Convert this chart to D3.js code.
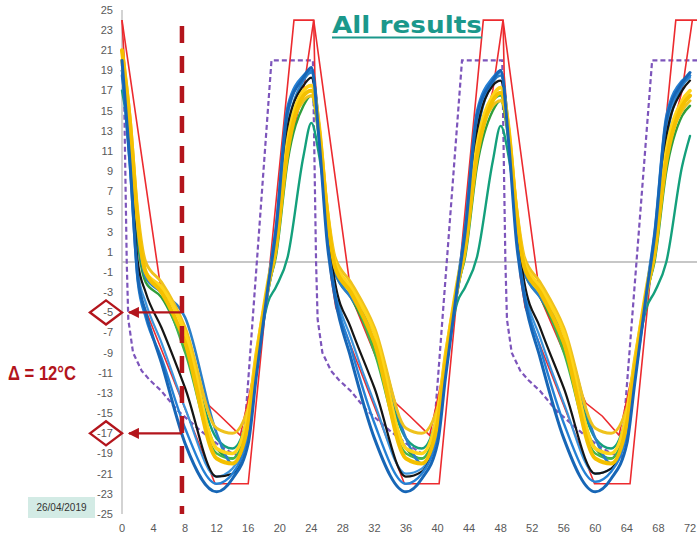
<!DOCTYPE html>
<html>
<head>
<meta charset="utf-8">
<script src="https://cdn.jsdelivr.net/npm/d3@7"></script>
<style>
  html, body { margin: 0; padding: 0; background: #fff; }
  svg { display: block; }
</style>
</head>
<body>
<svg id="chart" width="697" height="537"></svg>
<script>
// ---------- DATA ----------
const titleText = "All results";
const deltaText = "Δ = 12°C";
const dateText = "26/04/2019";
const yTicks = [25,23,21,19,17,15,13,11,9,7,5,3,1,-1,-3,-5,-7,-9,-11,-13,-15,-17,-19,-21,-23,-25];
const xTicks = [0,4,8,12,16,20,24,28,32,36,40,44,48,52,56,60,64,68,72];
const markerHour = 7.6;
const markedValues = [-5, -17];

// shared time grid for the measured curves (hours)
const hours = [0,1,2,3,5,8,12,14,16,17,18.5,19.5,21,23,
               24,25,26,27,29,32,36,38,40,41,42.5,43.5,45,47,
               48,49,50,51,53,56,60,62,64,65,66.5,67.5,69,71,
               72];

const blue1 = [20,10,-1.5,-5,-10,-18,-22.8,-21.5,-18,-11.5,-2.5,3,15,18.3,
               19.3,12,2,-3.5,-9.5,-17.5,-22.8,-21.5,-18,-11.5,-2.5,3,14.5,18,
               19,12,2,-3.5,-9.5,-17.5,-22.8,-21.5,-18,-12,-3,2.5,14,17.8,
               18.8];
const blue2 = [19,9.5,-2,-5.5,-9.5,-16.5,-22,-21,-17,-10.5,-2,3.5,15.5,18.5,
               19,12.5,2.5,-3,-8.5,-16,-22,-21,-17,-10.5,-2,3.5,15,18.3,
               19,12.5,2.5,-3,-8.5,-16,-21.8,-20.8,-17,-11,-2.5,3,14.5,18,
               18.5];
const blue4 = [19,10.5,-1,-4,-8,-14.5,-21.3,-20.5,-16.5,-10,-2.5,3,14.5,18.5,
               19,13,3,-2.5,-7.5,-14,-21,-20.5,-16.5,-10,-2.5,3,14,18,
               18.8,13,3,-2.5,-7.5,-14,-21,-20.5,-16.5,-10.5,-3,2.5,13.5,17.5,
               18.3];
const black = [19,11,0,-3,-6.5,-12.5,-21.3,-21,-16.5,-10,-2.5,2,13.5,17.5,
               18.3,13,3.5,-2,-6.5,-12.5,-21.3,-20.8,-16.5,-10,-2.5,2,13,17.5,
               18,13,3.5,-2,-6.5,-12.5,-21,-20.5,-16.5,-10.5,-3,1.5,12.5,17,
               18];
const blue3 = [18.5,12,3,-1.5,-3,-5.5,-17,-20,-17,-11,-3,1.5,13,18,
               18.8,13.5,4,-1,-3.5,-7,-17.5,-20,-17,-11,-3,1.5,12.5,17.8,
               18.5,13.5,4,-1,-3.5,-7,-17.5,-20,-17,-11.5,-3.5,1,12,17.5,
               18.5];
const green1 = [19,12,2,-2,-3.5,-8.5,-18.5,-19.5,-15.5,-9.5,-2.5,0.5,10,15.5,
                16.5,12,4,-1,-3.5,-8.5,-18.5,-19.5,-15.5,-9.5,-2.5,0.5,9.5,15,
                16,12,4,-1,-3.5,-8.5,-18.5,-19.5,-15.5,-10,-3,0,9,14.5,
                15.5];
const green2 = [17,12,4,-1.5,-3,-8,-17.5,-18.5,-15,-10,-4,-2.5,0.5,10.5,
                13.8,10.5,5,0,-3,-8,-17.5,-18.5,-15,-10,-4,-2.5,0.5,10,
                13.5,10.5,5,0,-3,-8,-17.5,-18.5,-15,-10.5,-4.5,-3,0,9.5,
                12.5];
const green3 = [19.5,12.5,3,-1.5,-3,-9,-19,-19.5,-15.5,-10,-3,1,11.5,16.5,
                17,12.5,4.5,-1,-3,-9,-19,-19.5,-15.5,-10,-3,1,11,16,
                16.5,12.5,4.5,-1,-3,-9,-19,-19.5,-15.5,-10.5,-3.5,0.5,10.5,15.5,
                16.5];
const yellow1 = [21,14,4,-1,-3,-8,-19.5,-20,-16,-10,-2.5,1.5,11,16.5,
                 17,13,5,-0.5,-3,-8,-19.5,-20,-16,-10,-2.5,1.5,10.5,16,
                 16.8,13,5,-0.5,-3,-8,-19.5,-20,-16,-10.5,-3,1,10,15.5,
                 16.5];
const yellow2 = [20,13.5,4,-1,-2.5,-7,-18.5,-19,-15,-9.5,-2,2,12,17,
                 17.5,13.5,5,0,-2.5,-7,-18.5,-19,-15,-9.5,-2,2,11.5,16.5,
                 17.3,13.5,5,0,-2.5,-7,-18.5,-19,-15,-10,-2.5,1.5,11,16,
                 17];
const yellow3 = [21,14.5,5,0,-2,-6.5,-16.5,-17,-14.5,-9,-2.5,1,11.5,16,
                 16.5,13,5.5,0.5,-2,-6.5,-16.5,-17,-14.5,-9,-2.5,1,11,15.5,
                 16,13,5.5,0.5,-2,-6.5,-16.5,-17,-14.5,-9.5,-3,0.5,10.5,15,
                 16];

// thin red curve (hours / values)
const redAHours = [0,4.8,8.8,10.7,12.5,15,17,18.5,19.5,21,23,24.3,
                   29.1,32.7,34.7,36.5,39,41,42.5,43.5,45,47,48.3,
                   53,56.8,58.8,60.9,63,65,66.5,67.5,69,71,72.3];
const redAValues = [24,-2,-10.4,-14,-15.3,-17.2,-10,-3,1.5,11,17,24,
                    -3.5,-10.4,-14,-15.3,-17.2,-10,-3,1.5,11,17,24,
                    -3.5,-10.4,-14,-15.3,-17.2,-10,-3,1.5,11,17,24];
// red trapezoid set point
const redBHours = [0,0.25,2,2.6,11.8,16,21.8,24.3,24.45,26.5,27.1,35.8,40.2,45.8,48.3,48.45,50.5,51.1,59.9,64.4,70.2,73.5];
const redBValues = [24,20.5,-1,-4,-22,-22,24,24,18.5,-1.5,-4.5,-22,-22,24,24,18.5,-1.5,-4.5,-22,-22,24,24];
// purple dashed set point
const purpleHours = [0,0.2,0.6,0.8,1.4,2.5,3.5,5,7,9.9,12,14,15.3,18.95,
                     24.2,24.6,24.8,25.4,26.5,27.5,29,31,33.9,36,38,39.3,43.1,
                     48.2,48.6,48.8,49.4,50.5,51.5,53,55,57.9,60,62,63.3,67.2,73.5];
const purpleValues = [20,20,0,-5.7,-9,-10.8,-11.7,-12.8,-14.7,-16.7,-18,-19,-19.3,20,
                      20,0,-5.7,-9,-10.8,-11.7,-12.8,-14.7,-16.7,-18,-19,-19.3,20,
                      20,0,-5.7,-9,-10.8,-11.7,-12.8,-14.7,-16.7,-18,-19,-19.3,20,20];

const curves = [
  {name:"green2", values: green2, color:"#14a07c", width:2.4},
  {name:"green1", values: green1, color:"#2f9e3c", width:2.4},
  {name:"green3", values: green3, color:"#41b54e", width:2.2},
  {name:"blue4",  values: blue4,  color:"#3d94dc", width:2.2},
  {name:"blue3",  values: blue3,  color:"#2a7fc8", width:2.6},
  {name:"black",  values: black,  color:"#151515", width:2.2},
  {name:"blue2",  values: blue2,  color:"#2580d4", width:2.4},
  {name:"yellow3",values: yellow3,color:"#efc21d", width:3},
  {name:"yellow2",values: yellow2,color:"#ffd41a", width:3.6},
  {name:"yellow1",values: yellow1,color:"#f4c000", width:4},
  {name:"blue1",  values: blue1,  color:"#1766b6", width:3}
];

// ---------- DRAW ----------
const svg = d3.select("#chart");
const x = d3.scaleLinear().domain([0, 72]).range([122, 690]);
const y = d3.scaleLinear().domain([-25, 25]).range([514, 10]);
const darkRed = "#b3151c";

// zero line
svg.append("line")
  .attr("x1", x(0)).attr("x2", 697)
  .attr("y1", y(0)).attr("y2", y(0))
  .attr("stroke", "#b4b4b4").attr("stroke-width", 1.5);

// y axis line
svg.append("line")
  .attr("x1", x(0)).attr("x2", x(0))
  .attr("y1", y(25)).attr("y2", y(-25))
  .attr("stroke", "#c4c4c4").attr("stroke-width", 1.5);

const lineXY = d3.line().x(d => x(d[0])).y(d => y(d[1])).curve(d3.curveLinear);
const plot = svg.append("g");

// purple dashed
plot.append("path")
  .datum(purpleHours.map((h, i) => [h, purpleValues[i]]))
  .attr("d", lineXY)
  .attr("fill", "none").attr("stroke", "#7d55bb").attr("stroke-width", 2.2)
  .attr("stroke-dasharray", "5,3");

// red trapezoid
plot.append("path")
  .datum(redBHours.map((h, i) => [h, redBValues[i]]))
  .attr("d", lineXY)
  .attr("fill", "none").attr("stroke", "#ec2b2f").attr("stroke-width", 1.6);

// thin red curve
plot.append("path")
  .datum(redAHours.map((h, i) => [h, redAValues[i]]))
  .attr("d", lineXY)
  .attr("fill", "none").attr("stroke", "#ec2b2f").attr("stroke-width", 1.6);

// measured curves
const smooth = d3.line().x(d => x(d[0])).y(d => y(d[1])).curve(d3.curveMonotoneX);
curves.forEach(c => {
  plot.append("path")
    .datum(hours.map((h, i) => [h, c.values[i]]))
    .attr("d", smooth)
    .attr("fill", "none")
    .attr("stroke", c.color)
    .attr("stroke-width", c.width)
    .attr("stroke-linejoin", "round")
    .attr("stroke-linecap", "round");
});

// vertical dashed marker line
svg.append("line")
  .attr("x1", x(markerHour)).attr("x2", x(markerHour))
  .attr("y1", 26).attr("y2", y(-25))
  .attr("stroke", darkRed).attr("stroke-width", 4.5)
  .attr("stroke-dasharray", "17,13");

// arrow marker
const defs = svg.append("defs");
defs.append("marker")
  .attr("id", "arrowHead")
  .attr("viewBox", "0 0 10 10")
  .attr("refX", 9).attr("refY", 5)
  .attr("markerWidth", 4.6).attr("markerHeight", 4.6)
  .attr("markerUnits", "strokeWidth")
  .attr("orient", "auto")
  .append("path")
  .attr("d", "M0,0 L10,5 L0,10 Z")
  .attr("fill", darkRed);

markedValues.forEach(v => {
  svg.append("line")
    .attr("x1", x(markerHour)).attr("x2", x(0) + 7)
    .attr("y1", y(v)).attr("y2", y(v))
    .attr("stroke", darkRed).attr("stroke-width", 2.4)
    .attr("marker-end", "url(#arrowHead)");
  const cx = 106, cy = y(v);
  svg.append("path")
    .attr("d", `M${cx - 16},${cy} L${cx},${cy - 12} L${cx + 16},${cy} L${cx},${cy + 12} Z`)
    .attr("fill", "#fff").attr("stroke", darkRed).attr("stroke-width", 2.4);
});

// y tick labels
svg.append("g").selectAll("text")
  .data(yTicks).join("text")
  .attr("x", 113).attr("y", d => y(d))
  .attr("dy", "0.35em")
  .attr("text-anchor", "end")
  .attr("font-family", "Liberation Sans, Arial, sans-serif")
  .attr("font-size", 11)
  .attr("fill", "#595959")
  .text(d => d);

// x tick labels
svg.append("g").selectAll("text")
  .data(xTicks).join("text")
  .attr("x", d => x(d)).attr("y", 532)
  .attr("text-anchor", "middle")
  .attr("font-family", "Liberation Sans, Arial, sans-serif")
  .attr("font-size", 11)
  .attr("fill", "#595959")
  .text(d => d);

// title
svg.append("text")
  .attr("x", 332).attr("y", 33)
  .attr("font-family", "DejaVu Sans, Verdana, sans-serif")
  .attr("font-weight", "bold")
  .attr("font-size", 23)
  .attr("textLength", 150).attr("lengthAdjust", "spacingAndGlyphs")
  .attr("fill", "#1b988b")
  .text(titleText);
svg.append("line")
  .attr("x1", 332).attr("x2", 482).attr("y1", 37.5).attr("y2", 37.5)
  .attr("stroke", "#1b988b").attr("stroke-width", 2);

// delta annotation
svg.append("text")
  .attr("x", 8).attr("y", 380)
  .attr("font-family", "Liberation Sans, Arial, sans-serif")
  .attr("font-weight", "bold")
  .attr("font-size", 20)
  .attr("textLength", 68).attr("lengthAdjust", "spacingAndGlyphs")
  .attr("fill", darkRed)
  .text(deltaText);

// date box
svg.append("rect")
  .attr("x", 28).attr("y", 497).attr("width", 67).attr("height", 21)
  .attr("fill", "#d3ebe5");
svg.append("text")
  .attr("x", 61.5).attr("y", 511)
  .attr("text-anchor", "middle")
  .attr("font-family", "Liberation Sans, Arial, sans-serif")
  .attr("font-size", 10)
  .attr("fill", "#333")
  .text(dateText);
</script>
</body>
</html>
